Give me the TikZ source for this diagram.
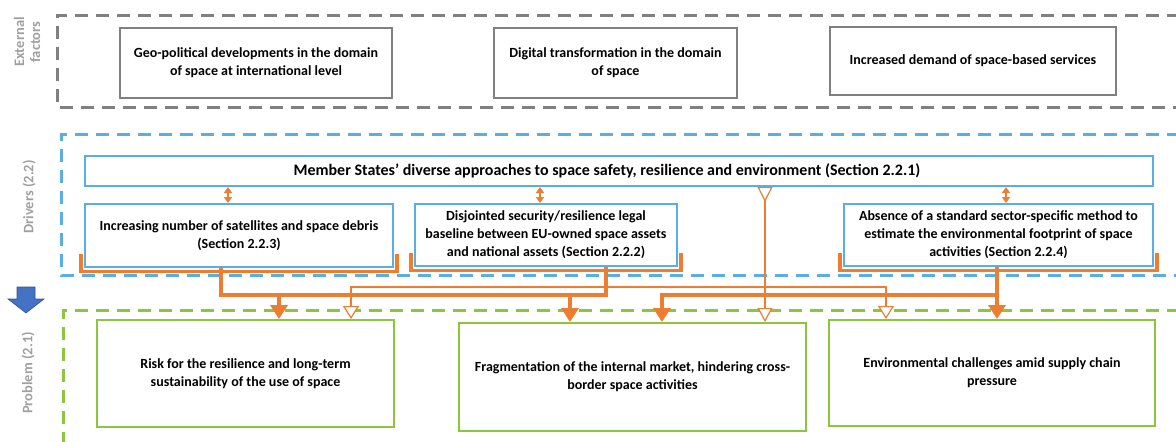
\documentclass[tikz,border=0pt]{standalone}
\usepackage{fontspec}
\setmainfont{Carlito}
\usetikzlibrary{arrows.meta,backgrounds}
\definecolor{extgray}{RGB}{128,128,128}
\definecolor{lblgray}{RGB}{160,160,160}
\definecolor{drvblue}{RGB}{91,174,227}
\definecolor{prbgreen}{RGB}{140,198,63}
\definecolor{linkorange}{RGB}{237,125,49}
\definecolor{arrblue}{RGB}{68,114,196}
\definecolor{arrblueline}{RGB}{47,82,143}

\begin{document}
\begin{tikzpicture}[x=1pt,y=-1pt,
  box/.style={draw,fill=white,line width=2pt,align=center,inner sep=2pt,
    font=\fontsize{14}{18}\selectfont\bfseries},
  extbox/.style={box,draw=extgray},
  drvbox/.style={box,draw=drvblue},
  prbbox/.style={box,draw=prbgreen},
  frame/.style={line width=3pt,dash pattern=on 13pt off 8pt},
  rowlabel/.style={rotate=90,align=center,text=lblgray,font=\fontsize{14.5}{16}\selectfont\bfseries},
  link/.style={draw=linkorange,line width=3.4pt},
  bigtip/.style={-{Triangle[width=17pt,length=14pt]}},
  weaklink/.style={draw=linkorange,line width=1.2pt},
  bracket/.style={draw=linkorange,line width=3.4pt},
  mutual/.style={draw=linkorange,line width=2.2pt,
    {Triangle[width=8pt,length=6pt]}-{Triangle[width=8pt,length=6pt]}}]
\useasboundingbox (0,0) rectangle (1176,442);

% external factors
\node[extbox,minimum width=272,minimum height=70] (ext1) at (256,63)
  {Geo-political developments in the domain\\of space at international level};
\node[extbox,minimum width=243,minimum height=70] (ext2) at (615.5,63)
  {Digital transformation in the domain\\of space};
\node[extbox,minimum width=286,minimum height=68] (ext3) at (973,61)
  {Increased demand of space-based services};

% drivers
\node[drvbox,minimum width=1068,minimum height=30,font=\fontsize{16}{18}\selectfont\bfseries] (member) at (619,171)
  {Member States’ diverse approaches to space safety, resilience and environment (Section 2.2.1)\hspace*{24pt}};
\node[drvbox,minimum width=308,minimum height=63] (d1) at (239,235.5)
  {Increasing number of satellites and space debris\\(Section 2.2.3)};
\node[drvbox,minimum width=262,minimum height=62] (d2) at (546,235)
  {Disjointed security/resilience legal\\baseline between EU-owned space assets\\and national assets (Section 2.2.2)};
\node[drvbox,minimum width=309,minimum height=62] (d3) at (998.5,235)
  {Absence of a standard sector-specific method to\\estimate the environmental footprint of space\\activities (Section 2.2.4)};

% problems
\node[prbbox,minimum width=297,minimum height=107] (p1) at (245.5,373.5)
  {Risk for the resilience and long-term\\sustainability of the use of space};
\node[prbbox,minimum width=347,minimum height=108] (p2) at (632.5,377)
  {Fragmentation of the internal market, hindering cross-\\border space activities};
\node[prbbox,minimum width=326,minimum height=106] (p3) at (992,373)
  {Environmental challenges amid supply chain\\pressure};

% row labels
\node[rowlabel] (lext) at (27,42) {External\\factors};
\node[rowlabel] (ldrv) at (29,197) {Drivers (2.2)};
\node[rowlabel] (lprb) at (28,373) {Problem (2.1)};
\filldraw[fill=arrblue,draw=arrblueline,line width=0.6pt]
  (17,287) -- (35,287) -- (35,299) -- (44,299) -- (26,313) -- (8,299) -- (17,299) -- cycle;

% links between the member states box and the drivers
\coordinate (a1) at ([xshift=-11pt]d1.north);
\coordinate (a2) at ([xshift=-6pt]d2.north);
\coordinate (a3) at ([xshift=7.5pt]d3.north);
\foreach \a in {a1,a2,a3}
  \draw[mutual] (\a) -- (\a |- member.south);

\begin{scope}[on background layer]
  \draw[frame,draw=extgray] (1180,15) -| (57,107) -- (1180,107);
  \draw[frame,draw=drvblue] (1180,134) -| (61,275) -- (1180,275);
  \draw[frame,draw=prbgreen] (1180,310) -| (63,446);

  \foreach \d in {d1,d2,d3}
    \draw[bracket] ([shift={(-3pt,14pt)}]\d.south west) |- ([shift={(3pt,-3.5pt)}]\d.south east)
      -- ([shift={(3pt,14pt)}]\d.south east);

  \coordinate (bus) at (0,295);
  \coordinate (wbus) at (0,287);
  \coordinate (s1) at ([xshift=-18pt]d1.south);
  \coordinate (s2) at ([xshift=60pt]d2.south);
  \coordinate (s3) at ([xshift=-1.5pt]d3.south);
  \coordinate (t1) at ([xshift=33.5pt]p1.north);
  \coordinate (t2) at ([xshift=-62.5pt]p2.north);
  \coordinate (t3) at ([xshift=29.5pt]p2.north);
  \draw[link] (s1) |- (bus -| s2) -- (s2);
  \draw[link,bigtip] (t1 |- bus) -- (t1);
  \draw[link,bigtip] (t2 |- bus) -- (t2);
  \draw[link,bigtip] (s3) -- (s3 |- p3.north);
  \draw[link,bigtip] (s3 |- bus) -| (t3);

  \coordinate (m0) at ([xshift=146pt]member.south);
  \coordinate (w1) at ([xshift=105.5pt]p1.north);
  \coordinate (w3) at ([xshift=-106pt]p3.north);
  \draw[weaklink,{Triangle[reversed,width=15pt,length=15pt,fill=white]}-{Triangle[width=15pt,length=14pt,fill=white]}]
    (m0) -- (m0 |- p2.north);
  \draw[weaklink,{Triangle[width=16pt,length=13pt,fill=white]}-{Triangle[width=16pt,length=13pt,fill=white]}]
    (w1) |- (w3 |- wbus) -- (w3);
\end{scope}
\end{tikzpicture}
\end{document}
